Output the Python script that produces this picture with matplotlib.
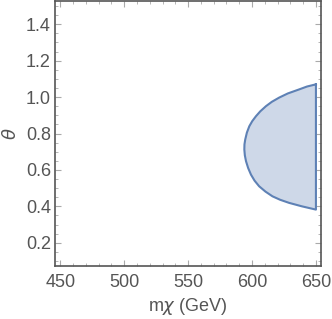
import numpy as np
import matplotlib.pyplot as plt

plt.rcParams['font.family'] = ['Liberation Sans', 'DejaVu Sans']

# boundary of the allowed region
m_chi = [650, 643, 636.8, 628, 621.2, 615.5, 610.9, 606.5, 603.1, 600.2, 597.9,
         596, 594.7, 594.1, 594, 594.4, 595.3, 597, 599.2, 602, 605.6, 610.5,
         616, 622, 629, 639, 650]
theta = [1.07, 1.058, 1.042, 1.02, 0.997, 0.974, 0.95, 0.922, 0.895, 0.868, 0.84,
         0.805, 0.767, 0.74, 0.712, 0.68, 0.648, 0.61, 0.574, 0.541, 0.51, 0.481,
         0.455, 0.436, 0.419, 0.4, 0.382]

xticks = [450, 500, 550, 600, 650]
yticks = [0.2, 0.4, 0.6, 0.8, 1.0, 1.2, 1.4]

fig = plt.figure(figsize=(3.32, 3.19), dpi=100)
ax = fig.add_axes([0.166, 0.166, 0.801, 0.831])

ax.fill(m_chi, theta, facecolor='#5e81b5', alpha=0.3, edgecolor='none')
ax.plot(m_chi + [m_chi[0]], theta + [theta[0]], color='#5e81b5', lw=1.5,
        solid_joinstyle='round')

ax.set_xlim(446, 654)
ax.set_ylim(0.072, 1.528)
ax.set_xticks(xticks)
ax.set_yticks(yticks)
ax.set_yticklabels([f'{v:.1f}' for v in yticks])
ax.set_xticks(np.arange(450, 655, 10), minor=True)
ax.set_yticks(np.arange(0.1, 1.53, 0.05), minor=True)

ax.tick_params(which='both', direction='in', top=True, right=True,
               colors='#aaaaaa', labelcolor='#555555', labelsize=13)
ax.tick_params(which='major', length=4, width=0.8)
ax.tick_params(which='minor', length=2, width=0.6)
ax.tick_params(axis='x', pad=6)
ax.tick_params(axis='y', pad=3)
for s in ax.spines.values():
    s.set_color('#555555')
    s.set_linewidth(1.2)

ax.set_xlabel(r'm$\chi$ (GeV)', fontsize=13, color='#555555', labelpad=3)
ax.set_ylabel(r'$\theta$', fontsize=13, color='#555555', labelpad=4)

fig.savefig('out.png', dpi=100)
